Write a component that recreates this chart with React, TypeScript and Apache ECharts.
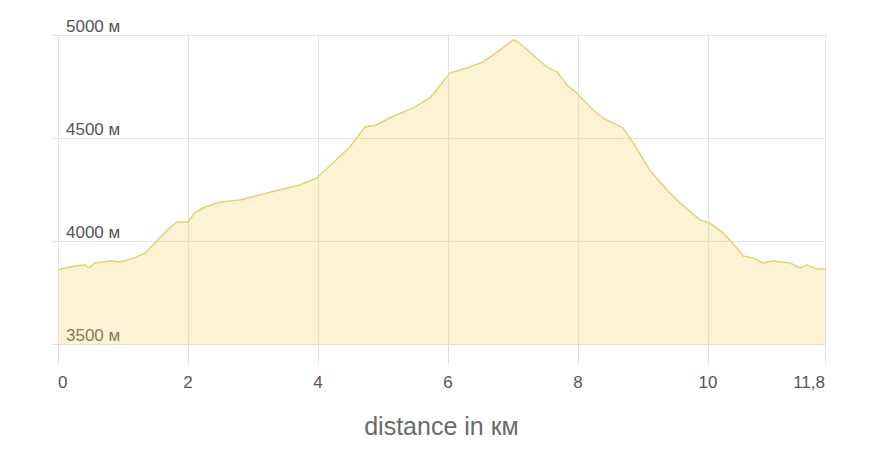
import React, { useEffect, useRef } from "react";
import * as echarts from "echarts";

const distanceKm = [0, 0.26, 0.42, 0.47, 0.57, 0.8, 0.95, 1.18, 1.34, 1.49, 1.65, 1.83, 2.0, 2.1, 2.26, 2.5, 2.8, 3.1, 3.4, 3.72, 3.98, 4.23, 4.49, 4.72, 4.9, 5.1, 5.46, 5.72, 5.92, 6.03, 6.29, 6.54, 6.8, 7.0, 7.08, 7.31, 7.52, 7.68, 7.83, 7.98, 8.23, 8.38, 8.69, 8.85, 9.1, 9.37, 9.57, 9.88, 10.03, 10.23, 10.38, 10.54, 10.69, 10.85, 11.0, 11.26, 11.42, 11.52, 11.68, 11.8];
const elevationM = [3860, 3879, 3883, 3869, 3893, 3903, 3898, 3918, 3942, 3990, 4044, 4092, 4092, 4136, 4165, 4189, 4199, 4223, 4248, 4272, 4306, 4379, 4456, 4553, 4563, 4597, 4646, 4694, 4772, 4816, 4840, 4869, 4927, 4976, 4966, 4903, 4845, 4820, 4757, 4718, 4636, 4597, 4549, 4476, 4345, 4248, 4184, 4102, 4087, 4039, 3990, 3927, 3918, 3893, 3903, 3893, 3869, 3884, 3864, 3864];
const xTickValues = [0, 2, 4, 6, 8, 10, 11.8];
const yMin = 3500;
const yMax = 5000;
const yInterval = 500;
const xAxisTitle = "distance in км";
const yUnit = "м";

export default function App() {
  const ref = useRef<HTMLDivElement>(null);
  useEffect(() => {
    if (!ref.current) return;
    const chart = echarts.init(ref.current, null, { renderer: "svg" });
    const font = "'Liberation Sans', Arial, sans-serif";
    chart.setOption({
      animation: false,
      grid: { left: 50, right: 51, top: 27, bottom: 116, containLabel: false },
      xAxis: {
        type: "value",
        min: 0,
        max: 11.8,
        name: xAxisTitle,
        nameLocation: "middle",
        nameGap: 69,
        nameTextStyle: { fontFamily: font, fontSize: 25, color: "#6a6a6a" },
        axisLine: { show: true, lineStyle: { color: "#ddd", width: 1 } },
        axisTick: { show: true, length: 19, lineStyle: { color: "#ddd" }, customValues: xTickValues },
        splitLine: { show: true, lineStyle: { color: "#e3e3e3", width: 1 } },
        axisLabel: {
          customValues: xTickValues,
          margin: 30,
          fontFamily: font,
          fontSize: 17,
          color: "#555",
          alignMinLabel: "left",
          alignMaxLabel: "right",
          formatter: (v: number) => String(v).replace(".", ","),
        },
      },
      yAxis: {
        type: "value",
        min: yMin,
        max: yMax,
        interval: yInterval,
        axisLine: { show: false },
        axisTick: { show: true, length: 6, inside: false, lineStyle: { color: "#ddd" } },
        splitLine: { show: true, lineStyle: { color: "#e3e3e3", width: 1 } },
        axisLabel: {
          inside: true,
          margin: 8,
          verticalAlign: "bottom",
          fontFamily: font,
          fontSize: 17,
          color: "#555",
          formatter: (v: number) => `${v} ${yUnit}`,
        },
      },
      series: [
        {
          type: "line",
          data: distanceKm.map((d, i) => [d, elevationM[i]]),
          symbol: "none",
          smooth: false,
          lineStyle: { color: "#e6d077", width: 1.5 },
          areaStyle: { color: "rgba(246,214,110,0.42)", origin: "start" },
          z: 1,
        },
      ],
    });
    return () => chart.dispose();
  }, []);
  return <div ref={ref} style={{ width: 868, height: 452 }} />;
}
